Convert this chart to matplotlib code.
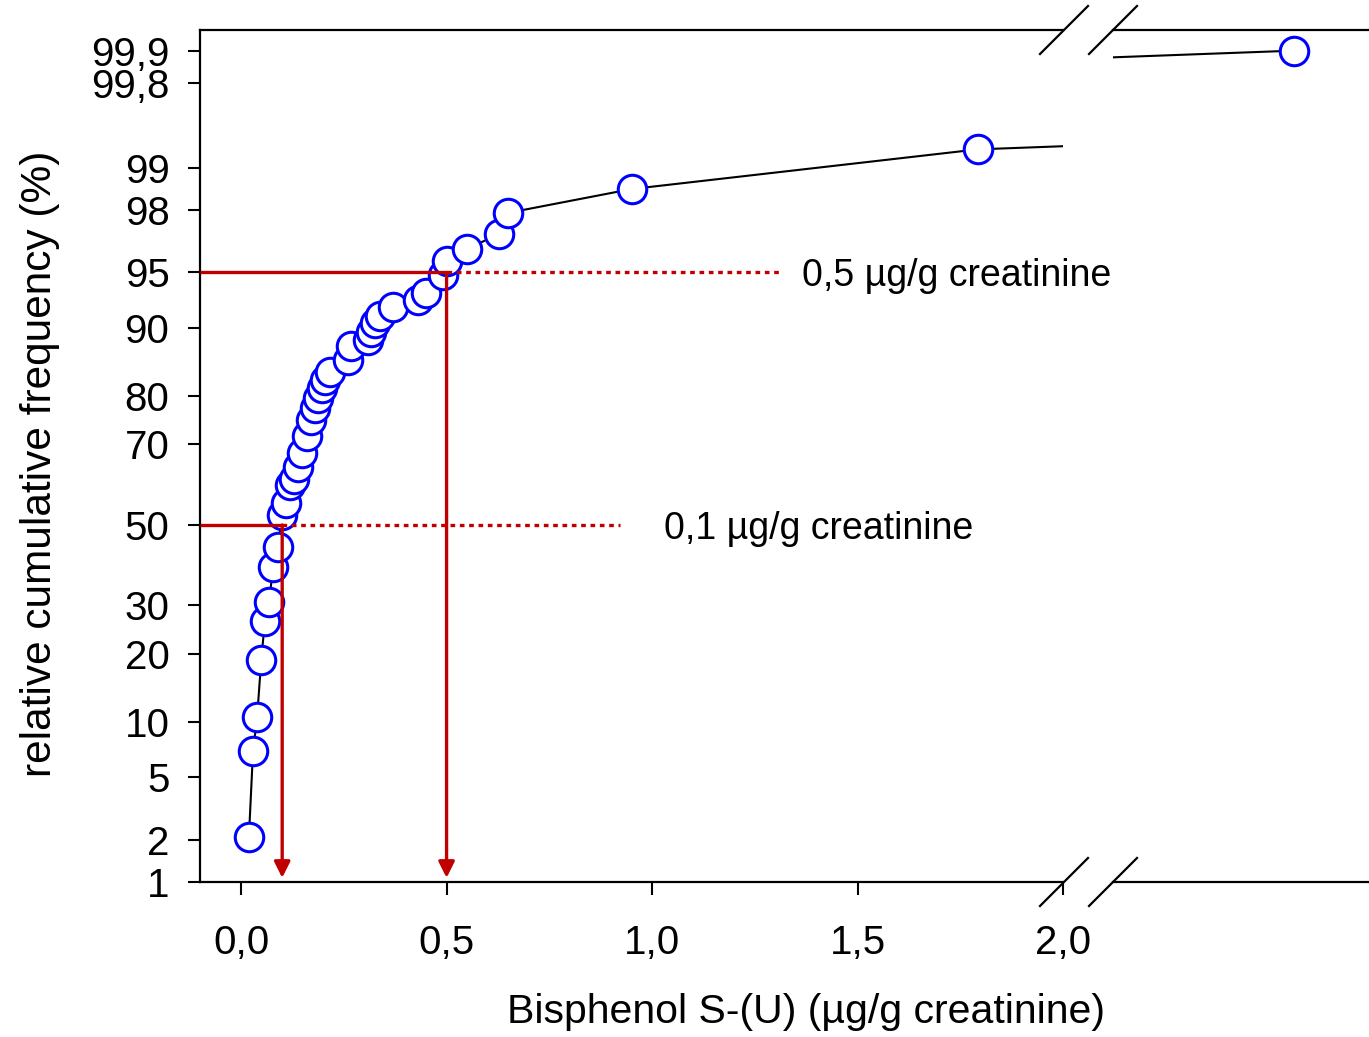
import numpy as np
import matplotlib
matplotlib.use('Agg')
import matplotlib.pyplot as plt
from matplotlib.lines import Line2D
from statistics import NormalDist

# BPS in urine (ug/g creatinine) and relative cumulative frequency (%)
bps = [0.019, 0.029, 0.039, 0.049, 0.058, 0.068, 0.078, 0.090, 0.100, 0.109,
       0.119, 0.129, 0.139, 0.148, 0.161, 0.170, 0.180, 0.187, 0.197, 0.204,
       0.217, 0.260, 0.268, 0.309, 0.316, 0.326, 0.338, 0.370, 0.431, 0.450,
       0.491, 0.501, 0.550, 0.628, 0.650, 0.951, 1.793, 8.3]
cum_freq = [2.1, 7.0, 10.5, 19.0, 26.6, 30.8, 39.2, 44.3, 52.6, 55.7,
            60.3, 61.8, 64.7, 68.0, 71.9, 75.3, 77.7, 79.6, 81.4, 82.8,
            84.1, 85.9, 87.8, 88.6, 89.6, 90.6, 91.3, 92.2, 92.9, 93.5,
            94.8, 95.7, 96.4, 97.1, 97.9, 98.57, 99.28, 99.9]

y_ticks = [1, 2, 5, 10, 20, 30, 50, 70, 80, 90, 95, 98, 99, 99.8, 99.9]
y_tick_labels = ['1', '2', '5', '10', '20', '30', '50', '70', '80', '90',
                 '95', '98', '99', '99,8', '99,9']
x_ticks = [0.0, 0.5, 1.0, 1.5, 2.0]
x_tick_labels = ['0,0', '0,5', '1,0', '1,5', '2,0']

# reference values
ref_values = [0.1, 0.5]
ref_freq = [50, 95]
ref_dot_end = [0.922, 1.319]
ref_text_x = [1.029, 1.365]
ref_labels = ['0,1 µg/g creatinine', '0,5 µg/g creatinine']

RED = '#C00000'
BLUE = '#0000FF'

plt.rcParams['font.family'] = ['Liberation Sans', 'DejaVu Sans']

_nd = NormalDist()
_fwd = np.vectorize(_nd.inv_cdf, otypes=[float])
_inv = np.vectorize(_nd.cdf, otypes=[float])


def prob_fwd(p):
    p = np.clip(np.asarray(p, dtype=float) / 100.0, 1e-9, 1 - 1e-9)
    return _fwd(p)


def prob_inv(z):
    return _inv(np.asarray(z, dtype=float)) * 100.0


def main():
    W, H = 1369, 1037
    fig = plt.figure(figsize=(W / 100, H / 100), dpi=100)

    left, right_l, top, bottom = 200, 1063, 30, 882
    right_start = 1113
    ax = fig.add_axes([left / W, 1 - bottom / H, (right_l - left) / W, (bottom - top) / H])
    ax2 = fig.add_axes([right_start / W, 1 - bottom / H, (W - right_start) / W, (bottom - top) / H])

    ytop = float(prob_inv(3.2248))
    for a in (ax, ax2):
        a.set_yscale('function', functions=(prob_fwd, prob_inv))
        a.set_ylim(1, ytop)
        a.plot(bps, cum_freq, color='black', lw=1.5, zorder=3,
               marker='o', markersize=20.5, markerfacecolor='white',
               markeredgecolor=BLUE, markeredgewidth=2.2)
        for s in a.spines.values():
            s.set_linewidth(1.6)
        a.spines['right'].set_visible(False)

    ax.set_xlim(-0.1, 2.0)
    ax.set_xticks(x_ticks)
    ax.set_xticklabels(x_tick_labels)
    ax.set_yticks(y_ticks)
    ax.set_yticklabels(y_tick_labels)
    ax.yaxis.set_minor_locator(plt.NullLocator())
    ax.tick_params(axis='both', direction='out', length=9, width=1.5, labelsize=29)
    ax.tick_params(axis='y', pad=13)
    ax.tick_params(axis='x', pad=21)

    ax2.set_xlim(7.86, 8.483)
    ax2.spines['left'].set_visible(False)
    ax2.set_xticks([])
    ax2.set_yticks([])
    ax2.yaxis.set_minor_locator(plt.NullLocator())
    ax2.tick_params(which='both', left=False, bottom=False,
                    labelleft=False, labelbottom=False)

    # reference lines with arrows
    for v, f, dend, tx, lab in zip(ref_values, ref_freq, ref_dot_end, ref_text_x, ref_labels):
        ax.plot([-0.1, v], [f, f], color=RED, lw=2.4, zorder=5, solid_capstyle='butt')
        ax.plot([v, dend], [f, f], color=RED, lw=2.4, zorder=5, linestyle=(0, (1.4, 1.4)))
        ax.annotate('', xy=(v, 1), xytext=(v, f),
                    arrowprops=dict(arrowstyle='-|>', color=RED, lw=2.4,
                                    mutation_scale=24, shrinkA=0, shrinkB=3),
                    zorder=5)
        ax.text(tx, f, lab, fontsize=27, va='center_baseline', ha='left')

    # axis break marks
    dx, dy = 24 / W, 24 / H
    for xp in (right_l + 1, right_start):
        for yp in (top, bottom):
            xc, yc = xp / W, 1 - yp / H
            fig.add_artist(Line2D([xc - dx, xc + dx], [yc - dy, yc + dy],
                                  transform=fig.transFigure, color='black', lw=1.6))

    fig.text(806 / W, 1 - 1012 / H, 'Bisphenol S-(U) (µg/g creatinine)',
             fontsize=29.5, ha='center', va='center')
    fig.text(40 / W, 1 - 464 / H, 'relative cumulative frequency (%)',
             fontsize=30.5, ha='center', va='center', rotation=90)

    fig.savefig('out.png', dpi=100)


if __name__ == "__main__":
    main()
